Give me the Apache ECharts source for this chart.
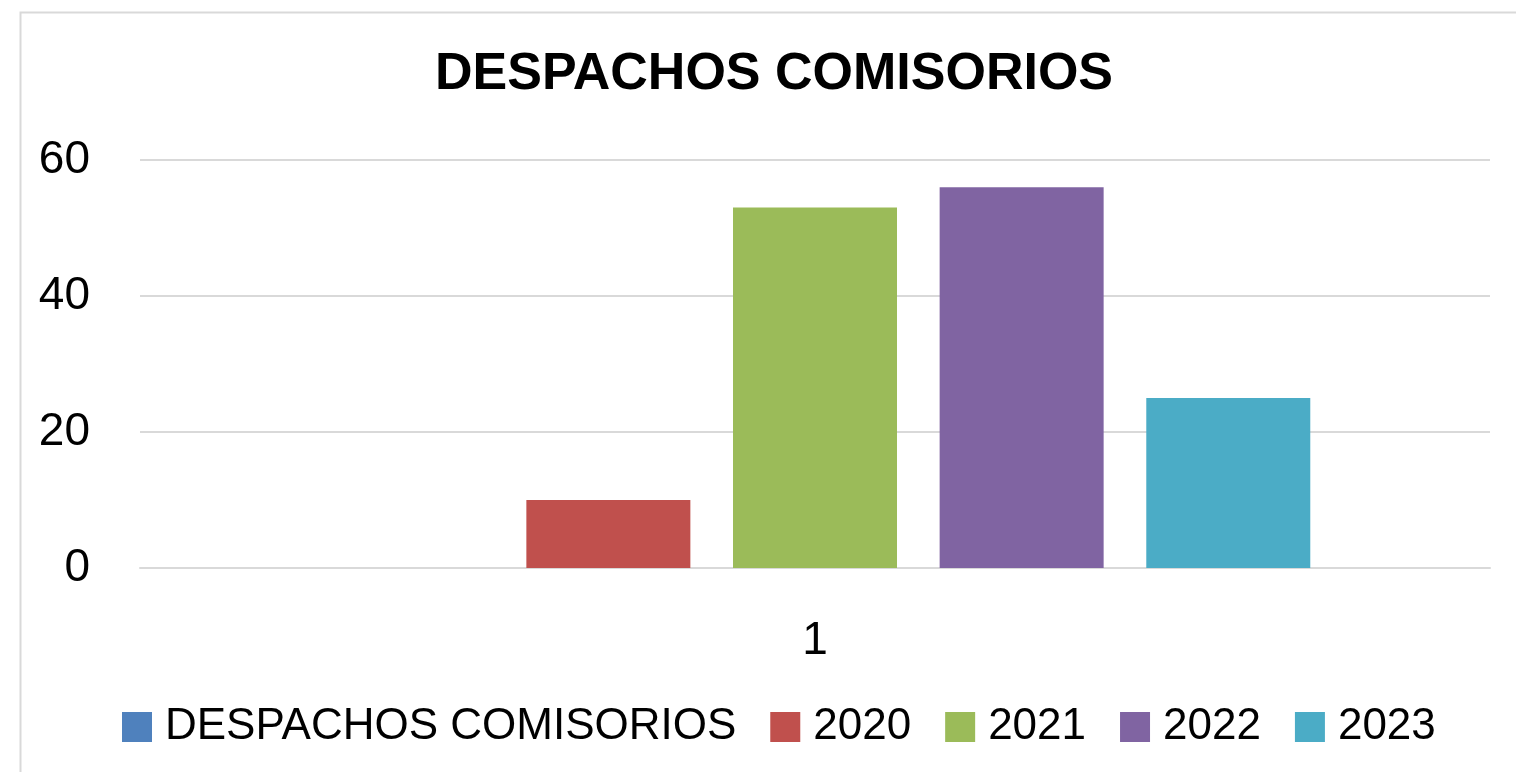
<!DOCTYPE html>
<html>
<head>
<meta charset="utf-8">
<script src="https://cdn.jsdelivr.net/npm/echarts@6/dist/echarts.min.js"></script>
<style>
  html, body { margin: 0; padding: 0; background: #fff; }
  #chart { width: 1516px; height: 772px; }
</style>
</head>
<body>
<div id="chart"></div>
<script>
const FONT = '"Liberation Sans", "DejaVu Sans", sans-serif';

const categories = ["1"];
const seriesNames = ["DESPACHOS COMISORIOS", "2020", "2021", "2022", "2023"];
const seriesValues = [[null], [10], [53], [56], [25]];
const seriesColors = ["#4F81BD", "#C0504D", "#9BBB59", "#8064A2", "#4BACC6"];
const yTicks = { min: 0, max: 60, interval: 20 };

const chart = echarts.init(document.getElementById("chart"), null, { renderer: "canvas" });

chart.setOption({
  backgroundColor: "#fff",
  animation: false,
  color: seriesColors,
  title: {
    text: "DESPACHOS COMISORIOS",
    left: 430,
    top: 44,
    textStyle: { fontFamily: FONT, fontWeight: "bold", fontSize: 52, color: "#000" },
  },
  graphic: [{
    type: "rect",
    shape: { x: 20.5, y: 12.5, width: 1600, height: 800 },
    style: { fill: "none", stroke: "#d9d9d9", lineWidth: 2 },
    silent: true,
  }],
  grid: { left: 140, right: 26, top: 160, bottom: 204 },
  legend: {
    bottom: 18,
    left: 117,
    itemWidth: 30,
    itemHeight: 30,
    itemGap: 34,
    icon: "rect",
    textStyle: { fontFamily: FONT, fontSize: 44, color: "#000", padding: [0, 0, 0, 8] },
    data: seriesNames,
  },
  xAxis: {
    type: "category",
    data: categories,
    axisLine: { show: true, lineStyle: { color: "#d9d9d9", width: 2 } },
    axisTick: { show: false },
    axisLabel: { fontFamily: FONT, fontSize: 46, color: "#000", margin: 50 },
  },
  yAxis: {
    type: "value",
    min: yTicks.min,
    max: yTicks.max,
    interval: yTicks.interval,
    axisLine: { show: false },
    axisTick: { show: false },
    axisLabel: { fontFamily: FONT, fontSize: 46, color: "#000", margin: 50 },
    splitLine: { lineStyle: { color: "#d9d9d9", width: 2 } },
  },
  series: seriesNames.map((name, i) => ({
    name,
    type: "bar",
    data: seriesValues[i],
    barWidth: 164,
    barGap: "26%",
    itemStyle: { color: seriesColors[i] },
  })),
});
</script>
</body>
</html>
